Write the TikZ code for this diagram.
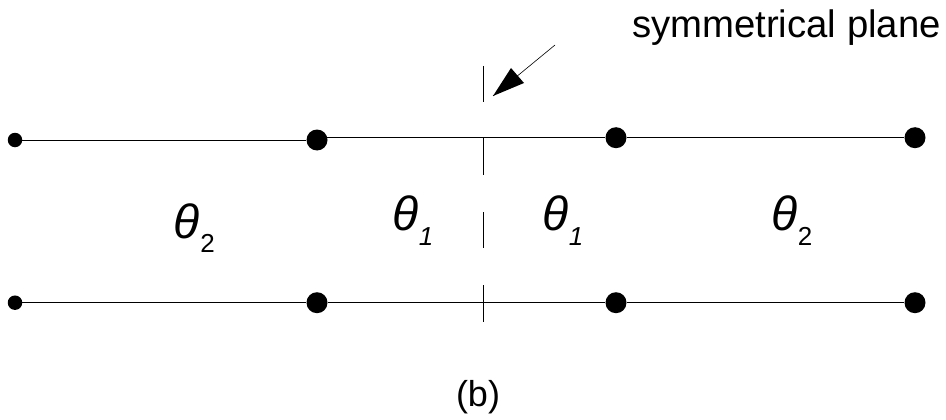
\documentclass[tikz,border=0pt]{standalone}
\usepackage{fontspec}
\setmainfont{Liberation Sans}
\tikzset{
  bar/.style={line width=0.9pt},
  plane/.style={line width=0.6pt},
  bigdot/.style={circle, fill=black, inner sep=0pt, minimum size=21pt},
  smalldot/.style={circle, fill=black, inner sep=0pt, minimum size=14.5pt},
  angle/.style={font=\fontsize{48}{48}\selectfont\itshape, inner sep=0pt, anchor=base},
  index/.style={font=\fontsize{26}{26}\selectfont\itshape, inner sep=0pt, anchor=base},
}
\begin{document}
\begin{tikzpicture}[x=1pt,y=-1pt]
\useasboundingbox (0,0) rectangle (946,420);
\node[smalldot] (a1) at (15,140) {};
\node[bigdot] (b1) at (317,140) {};
\node[bigdot] (c1) at (616,137.7) {};
\node[bigdot] (d1) at (915,137.7) {};
\node[smalldot] (a2) at (15,302.7) {};
\node[bigdot] (b2) at (317,302.7) {};
\node[bigdot] (c2) at (616,302.7) {};
\node[bigdot] (d2) at (915,302.7) {};
\draw[bar] (a1) -- (b1);
\draw[bar] (b1 |- c1) -- (c1);
\draw[bar] (c1) -- (d1);
\draw[bar] (a2) -- (b2);
\draw[bar] (b2) -- (c2);
\draw[bar] (c2) -- (d2);
\coordinate (p1) at (483,66);
\coordinate (p2) at (483,102);
\coordinate (p3) at (483,138);
\coordinate (p4) at (483,175);
\coordinate (p5) at (483,212);
\coordinate (p6) at (483,248);
\coordinate (p7) at (483,285);
\coordinate (p8) at (483,322);
\draw[plane] (p1) -- (p2);
\draw[plane] (p3) -- (p4);
\draw[plane] (p5) -- (p6);
\draw[plane] (p7) -- (p8);
\node[anchor=base east, inner sep=0pt, font=\fontsize{38.3}{38.3}\selectfont] (title) at (941,37.5) {symmetrical plane};
\coordinate (tail) at (555,45);
\coordinate (tip) at (493,96);
\coordinate (h1) at (511,68);
\coordinate (h2) at (524,83);
\draw[plane] (tail) -- (tip);
\fill (tip) -- (h1) -- (h2) -- cycle;
\node[angle] (t1) at (187,238) {θ};
\node[index] (i1) at (207.5,252) {\upshape 2};
\node[angle] (t2) at (406,230) {θ};
\node[index] (i2) at (426,245) {1};
\node[angle] (t3) at (556,230) {θ};
\node[index] (i3) at (576,245) {1};
\node[angle] (t4) at (785,230) {θ};
\node[index] (i4) at (805,245) {\upshape 2};
\node[anchor=base, inner sep=0pt, font=\fontsize{36}{36}\selectfont] (cap) at (478,406) {(b)};
\end{tikzpicture}
\end{document}
